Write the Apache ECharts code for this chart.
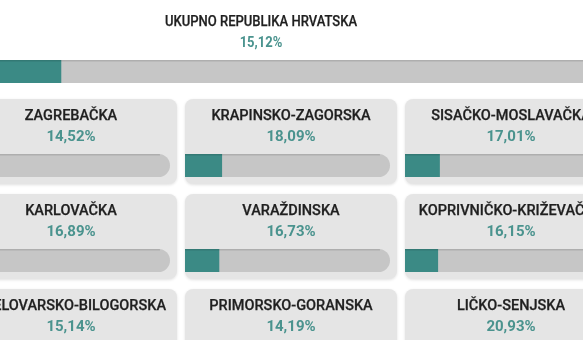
<!DOCTYPE html>
<html>
<head>
<meta charset="utf-8">
<title>Izlaznost</title>
<script src="https://cdn.jsdelivr.net/npm/echarts@6/dist/echarts.min.js"></script>
<style>
  * { margin: 0; padding: 0; }
  body { background: #fff; }
  #main { width: 583px; height: 340px; }
</style>
</head>
<body>
<div id="main"></div>
<script>
// podaci
var totalName = 'UKUPNO REPUBLIKA HRVATSKA';
var totalValue = 15.12;
var regions = ['ZAGREBAČKA', 'KRAPINSKO-ZAGORSKA', 'SISAČKO-MOSLAVAČKA',
  'KARLOVAČKA', 'VARAŽDINSKA', 'KOPRIVNIČKO-KRIŽEVAČKA',
  'BJELOVARSKO-BILOGORSKA', 'PRIMORSKO-GORANSKA', 'LIČKO-SENJSKA'];
var values = [14.52, 18.09, 17.01, 16.89, 16.73, 16.15, 15.14, 14.19, 20.93];

// raspored kartica
var colLeft = [-35, 185, 405];
var rowTop = [99, 194, 289];
var cardW = 212, cardH = 85, barW = 205, barH = 23;

var teal = '#3b8a85';
var track = '#c6c6c6';

function fmt(v) {
  return v.toFixed(2).replace('.', ',') + '%';
}

var myChart = echarts.init(document.getElementById('main'));

var grids = [], xAxes = [], yAxes = [], series = [], graphics = [];

function addBar(i, left, top, width, value, radius) {
  // outerBoundsMode none -> grid smije izaći izvan platna
  grids.push({ left: left, top: top, width: width, height: barH, outerBoundsMode: 'none', containLabel: false });
  xAxes.push({ type: 'value', gridIndex: i, min: 0, max: 100, show: false });
  yAxes.push({ type: 'category', gridIndex: i, data: [''], show: false });
  series.push({
    type: 'bar',
    xAxisIndex: i,
    yAxisIndex: i,
    data: [value],
    barWidth: barH,
    silent: true,
    itemStyle: { color: teal },
    showBackground: true,
    backgroundStyle: { color: track, borderRadius: radius }
  });
  // tanka sjena na vrhu trake
  graphics.push({
    type: 'rect', z: 50,
    shape: { x: left, y: top, width: width - (radius[1] ? 10 : 0), height: 1.5 },
    style: { fill: 'rgba(0,0,0,0.12)' }
  });
}

function addText(x, y, name, value, s1, s2, sx) {
  graphics.push({
    type: 'text', z: 100, x: x, y: y, scaleX: sx,
    style: {
      text: name, fill: '#1f1f1f', align: 'center', verticalAlign: 'middle',
      font: '500 ' + s1 + 'px Roboto', stroke: '#1f1f1f', lineWidth: 0.25
    }
  });
  graphics.push({
    type: 'text', z: 100, x: x, y: y + 21, scaleX: sx,
    style: {
      text: fmt(value), fill: '#4a938e', align: 'center', verticalAlign: 'middle',
      font: 'bold ' + s2 + 'px Roboto'
    }
  });
}

// ukupno
addText(261, 22, totalName, totalValue, 14, 14, 0.93);
addBar(0, -37, 60, 650, totalValue, [0, 0, 0, 0]);

// kartice
for (var k = 0; k < regions.length; k++) {
  var cx = colLeft[k % 3];
  var cy = rowTop[Math.floor(k / 3)];
  graphics.push({
    type: 'rect', z: 0,
    shape: { x: cx, y: cy, width: cardW, height: cardH, r: 8 },
    style: { fill: '#e5e5e5', shadowBlur: 3, shadowColor: 'rgba(0,0,0,0.12)', shadowOffsetY: 1 }
  });
  addText(cx + cardW / 2, cy + 17.5, regions[k], values[k], 14.5, 15, 1);
  addBar(k + 1, cx, cy + 55, barW, values[k], [0, 12, 12, 0]);
}

var option = {
  animation: false,
  grid: grids,
  xAxis: xAxes,
  yAxis: yAxes,
  series: series,
  graphic: graphics
};
myChart.setOption(option);
</script>
</body>
</html>
